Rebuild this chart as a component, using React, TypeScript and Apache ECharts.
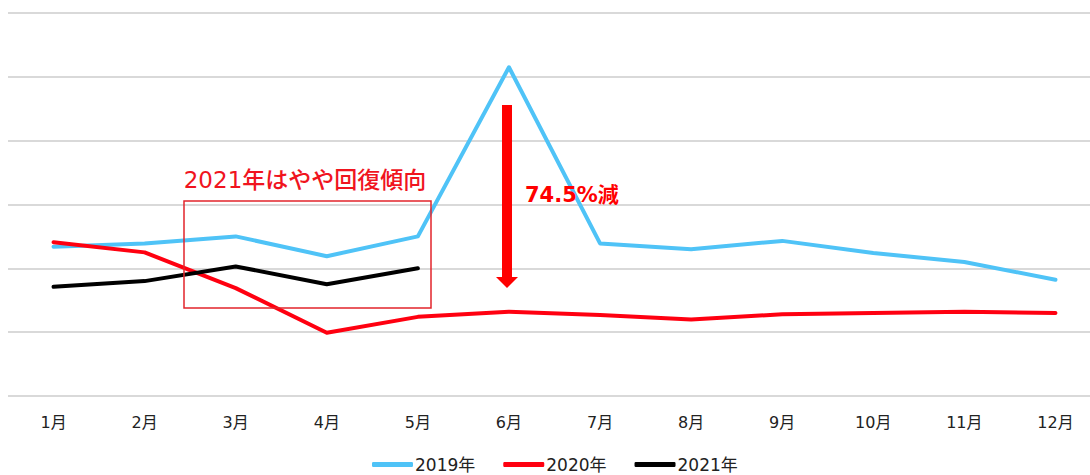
import React, { useEffect, useRef } from "react";
import * as echarts from "echarts";

const months = ["1月", "2月", "3月", "4月", "5月", "6月", "7月", "8月", "9月", "10月", "11月", "12月"];
const series2019 = [234, 239, 250, 219, 250, 515, 239, 230, 243, 224, 210, 182];
const series2020 = [241, 225, 169, 99, 124, 132, 127, 120, 128, 130, 132, 130];
const series2021 = [171, 180, 203, 175, 200];
const seriesNames = ["2019年", "2020年", "2021年"];
const colors = ["#4fc3f7", "#ff0010", "#000000"];

const FONT = "'DejaVu Sans', 'Noto Sans CJK JP', sans-serif";

export default function App() {
  const ref = useRef<HTMLDivElement>(null);
  useEffect(() => {
    document.body.style.margin = "0";
    document.body.style.overflow = "hidden";
    if (!ref.current) return;
    const chart = echarts.init(ref.current, undefined, { renderer: "svg" });
    const mk = (name: string, data: number[], color: string) => ({
      name,
      type: "line",
      data,
      symbol: "none",
      showSymbol: false,
      lineStyle: { width: 4, color, join: "round", cap: "round" },
      itemStyle: { color },
      emphasis: { disabled: true },
    });
    chart.setOption({
      animation: false,
      backgroundColor: "#ffffff",
      grid: { left: 8, top: 13, right: 0, height: 383 },
      xAxis: {
        type: "category",
        data: months,
        boundaryGap: true,
        axisLine: { show: false },
        axisTick: { show: false },
        axisLabel: { color: "#222", fontSize: 16, margin: 18, fontFamily: FONT },
      },
      yAxis: {
        type: "value",
        min: 0,
        max: 600,
        interval: 100,
        axisLabel: { show: false },
        axisLine: { show: false },
        axisTick: { show: false },
        splitLine: { lineStyle: { color: "#d9d9d9", width: 2 } },
      },
      legend: {
        data: seriesNames,
        left: 372,
        top: 456,
        padding: 0,
        icon: "roundRect",
        itemWidth: 41,
        itemHeight: 5,
        itemGap: 28,
        textStyle: { color: "#222", fontSize: 17, fontFamily: FONT, padding: [0, 0, 0, -3] },
      },
      series: [
        mk(seriesNames[0], series2019, colors[0]),
        mk(seriesNames[1], series2020, colors[1]),
        mk(seriesNames[2], series2021, colors[2]),
      ],
      graphic: [
        {
          type: "rect",
          shape: { x: 184, y: 201, width: 247, height: 107 },
          style: { fill: "none", stroke: "#e2252b", lineWidth: 1.5 },
          z: 10,
        },
        {
          type: "text",
          x: 305,
          y: 180,
          style: {
            text: "2021年はやや回復傾向",
            fill: "#f0141e",
            fontSize: 23,
            fontWeight: 500,
            fontFamily: FONT,
            align: "center",
            verticalAlign: "middle",
          },
          z: 10,
        },
        {
          type: "rect",
          shape: { x: 502, y: 105, width: 10, height: 174 },
          style: { fill: "#ff0000" },
          z: 10,
        },
        {
          type: "polygon",
          shape: { points: [[496, 277], [518, 277], [507, 288]] },
          style: { fill: "#ff0000" },
          z: 10,
        },
        {
          type: "text",
          x: 525,
          y: 195,
          style: {
            text: "74.5%減",
            fill: "#ff0000",
            fontSize: 21,
            fontWeight: "bold",
            fontFamily: FONT,
            align: "left",
            verticalAlign: "middle",
          },
          z: 10,
        },
      ],
    });
    return () => chart.dispose();
  }, []);
  return <div ref={ref} style={{ width: 1101, height: 475 }} />;
}
